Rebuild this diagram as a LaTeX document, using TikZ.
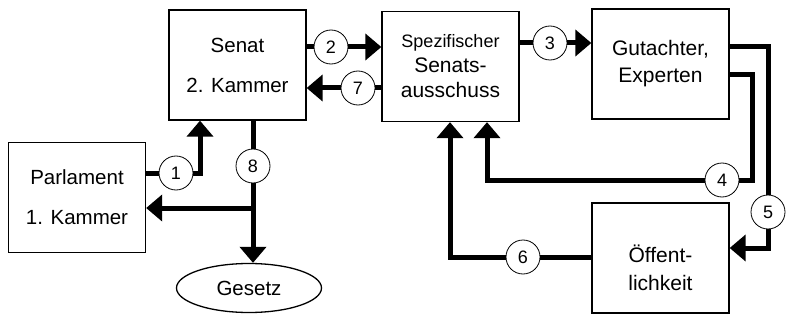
\documentclass[tikz,border=0pt]{standalone}
\usepackage{fontspec}
\setmainfont{Liberation Sans}
\usetikzlibrary{shapes.geometric,arrows.meta}
\begin{document}
\begin{tikzpicture}[x=1pt,y=-1pt,
box/.style={draw,line width=1.3pt,minimum width=137pt,minimum height=110pt,align=center,inner sep=0pt,font=\fontsize{20.5}{40}\selectfont},
num/.style={draw,circle,line width=0.8pt,minimum size=34pt,inner sep=0pt,font=\fontsize{18}{18}\selectfont},
lin/.style={line width=5pt},
arr/.style={line width=5pt,-{Triangle[length=16pt,width=26pt]}}]
\useasboundingbox (0,0) rectangle (788,321);
\node[box] (parl) at (77,197.5) {Parlament\\1. Kammer};
\node[box] (senat) at (237.5,65) {Senat\\2. Kammer};
\node[box,font=\fontsize{21}{25}\selectfont] (aus) at (450.5,66.5) {{\fontsize{18}{25}\selectfont Spezifischer}\\Senats-\\ausschuss};
\node[box,font=\fontsize{21}{27}\selectfont] (gut) at (660.5,64) {Gutachter,\\Experten};
\node[box,label={[yshift=-10pt,align=center,font=\fontsize{21}{28}\selectfont]center:Öffent-\\lichkeit}] (oeff) at (660.5,258) {};
\node[draw,ellipse,line width=1.3pt,minimum width=145pt,minimum height=49pt,inner sep=0pt,font=\fontsize{20.5}{24}\selectfont] (gesetz) at (249,288) {Gesetz};
\node[num] (n1) at (176,173) {1};
\node[num] (n2) at (331,47) {2};
\node[num] (n3) at (550,43) {3};
\node[num] (n4) at (722,180) {4};
\node[num] (n5) at (768,212) {5};
\node[num] (n6) at (523,257) {6};
\node[num] (n7) at (358,88) {7};
\node[num] (n8) at (253,166) {8};
\coordinate (k1) at (200,173);
\coordinate (k8) at (253,208);
\coordinate (k4) at (752,75);
\coordinate (m4) at (487,180);
\coordinate (k5) at (768,47);
\coordinate (m5) at (768,248);
\coordinate (k6) at (450,257);
\path[draw,lin] (parl.east |- n1) -- (n1);
\path[draw,arr] (n1) -- (k1) -- (k1 |- senat.south);
\path[draw,lin] (senat.south -| n8) -- (n8);
\path[draw,arr] (n8) -- (n8 |- gesetz.north);
\path[draw,arr] (k8) -- (parl.east |- k8);
\path[draw,lin] (senat.east |- n2) -- (n2);
\path[draw,arr] (n2) -- (aus.west |- n2);
\path[draw,lin] (aus.west |- n7) -- (n7);
\path[draw,arr] (n7) -- (senat.east |- n7);
\path[draw,lin] (aus.east |- n3) -- (n3);
\path[draw,arr] (n3) -- (gut.west |- n3);
\path[draw,lin] (gut.east |- k4) -- (k4) -- (k4 |- n4) -- (n4);
\path[draw,arr] (n4) -- (m4) -- (m4 |- aus.south);
\path[draw,lin] (gut.east |- k5) -- (k5) -- (n5);
\path[draw,arr] (n5) -- (m5) -- (oeff.east |- m5);
\path[draw,lin] (oeff.west |- n6) -- (n6);
\path[draw,arr] (n6) -- (k6) -- (k6 |- aus.south);
\end{tikzpicture}
\end{document}
